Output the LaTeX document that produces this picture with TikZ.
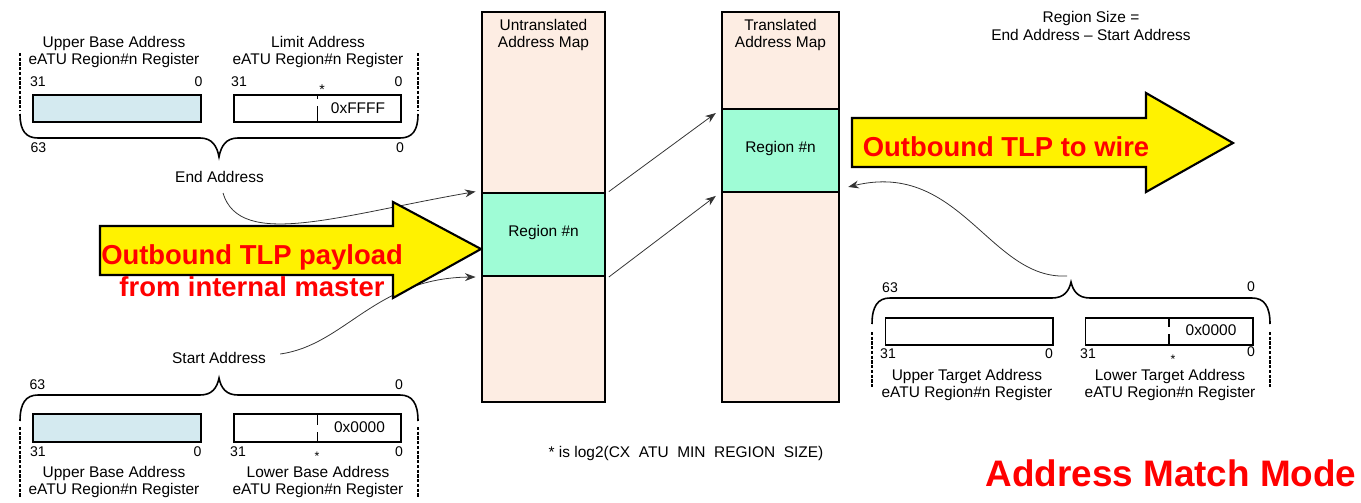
\documentclass[tikz,border=0pt]{standalone}
\usepackage{fontspec}
\setmainfont{Liberation Sans}
\usetikzlibrary{arrows.meta, positioning, calc}

\definecolor{mapbg}{HTML}{FDEDE3}
\definecolor{regbg}{HTML}{9FFCD6}
\definecolor{basebg}{HTML}{D4EAF0}

\begin{document}
\begin{tikzpicture}[
    x=0.02cm, y=-0.02cm,
    >=Stealth,
    lbl/.style={font=\fontsize{8.8}{10}\selectfont, inner sep=1pt, align=center},
    bitno/.style={font=\fontsize{8}{9}\selectfont, inner sep=0pt},
    regbox/.style={draw, line width=0.6pt, minimum height=0.54cm, inner sep=0pt},
    addrmap/.style={draw, line width=1.1pt, fill=mapbg, minimum height=7.81cm},
    band/.style={draw, line width=1.1pt, fill=regbg, minimum height=1.67cm},
    brace/.style={line width=0.9pt},
    dashside/.style={line width=1.1pt, dash pattern=on 1.8pt off 0.9pt},
    ptr/.style={-{Stealth[length=6pt,width=4.5pt]}, line width=0.45pt, black!80},
    tlp/.style={draw, line width=1.2pt, fill=yellow},
    bigred/.style={text=red, font=\bfseries\fontsize{15.6}{18}\selectfont, inner sep=0pt, align=center},
]
\useasboundingbox (0,0) rectangle (1361,503);
% === Address maps ===
\node[addrmap, minimum width=2.47cm] (umap) at (543.5,206.8) {};
\node[band, minimum width=2.47cm] (ureg) at (543.5,234.3) {};
\node[lbl] (utitle) at (543.5,35) {Untranslated\\Address Map};
\node[lbl] (utext) at (543.5,233) {Region \#n};
\node[addrmap, minimum width=2.35cm] (tmap) at (780.5,206.8) {};
\node[band, minimum width=2.35cm, minimum height=1.66cm] (treg) at (780.5,150.5) {};
\node[lbl] (ttitle) at (780.5,35) {Translated\\Address Map};
\node[lbl] (ttext) at (780.5,149) {Region \#n};
\draw[ptr] ([xshift=1.5pt]ureg.north east) -- ($(treg.north west)+(-5,5)$);
\draw[ptr] ([xshift=1.5pt]ureg.south east) -- ($(treg.south west)+(-5,3)$);
% === End address (upper registers) ===
\node[lbl] (ubhead) at (114,52) {Upper Base Address\\eATU Region\#n Register};
\node[lbl] (limhead) at (318,52) {Limit Address\\eATU Region\#n Register};
\node[regbox, fill=basebg, minimum width=3.36cm] (ubase) at (117,108.5) {};
\node[regbox, minimum width=3.34cm] (lim) at (317.5,108.5) {};
\draw[line width=0.6pt] (lim.north) -- ++(0,5) (lim.south) -- ++(0,-17);
\node[lbl] (limval) at (358,108) {0xFFFF};
\node[bitno] (ub31) at (38,82) {31};
\node[bitno] (ub0) at (198.5,82) {0};
\node[bitno] (lim31) at (239,82) {31};
\node[bitno] (lim0) at (398.5,82) {0};
\node[bitno] (limstar) at (322,90) {*};
\draw[dashside] (20,53) -- (20,110) (418,53) -- (418,110);
\draw[brace] (20,114) .. controls (20,131) and (26,138) .. (38,138) -- (200,138)
    .. controls (212,138) and (217,146) .. (219,157)
    .. controls (221,146) and (226,138) .. (238,138) -- (400,138)
    .. controls (412,138) and (418,131) .. (418,114);
\node[bitno] (end63) at (38.5,148) {63};
\node[bitno] (end0) at (400,148) {0};
\node[lbl] (ea) at (219.5,176.5) {End Address};
% === Start address (lower registers) ===
\node[lbl] (sa) at (219,357.5) {Start Address};
\node[bitno] (st63) at (37.5,385) {63};
\node[bitno] (st0) at (399,385) {0};
\draw[brace] (20,421) .. controls (20,403) and (26,395) .. (38,395) -- (200,395)
    .. controls (212,395) and (217,388) .. (219,378)
    .. controls (221,388) and (226,395) .. (238,395) -- (400,395)
    .. controls (412,395) and (418,403) .. (418,421);
\draw[dashside] (20,427) -- (20,498) (418,427) -- (418,498);
\node[regbox, fill=basebg, minimum width=3.36cm, minimum height=0.56cm] (ubase2) at (117,428) {};
\node[regbox, minimum width=3.34cm, minimum height=0.56cm] (lbase) at (317.5,428) {};
\draw[line width=0.6pt] (lbase.north) -- ++(0,12) (lbase.south) -- ++(0,-11);
\node[lbl] (lbval) at (359.5,427) {0x0000};
\node[bitno] (ub2_31) at (38,452) {31};
\node[bitno] (ub2_0) at (197.5,452) {0};
\node[bitno] (lb31) at (238,452) {31};
\node[bitno] (lb0) at (399,452) {0};
\node[bitno, font=\fontsize{7}{8}\selectfont] (lbstar) at (317,456) {*};
\node[lbl] (ub2head) at (114,482) {Upper Base Address\\eATU Region\#n Register};
\node[lbl] (lbhead) at (318,482) {Lower Base Address\\eATU Region\#n Register};
% === Target registers ===
\node[bitno] (tg63) at (890,288) {63};
\node[bitno] (tg0) at (1251,287) {0};
\coordinate (tgtip) at (1067,276);
\draw[brace] (872,324) .. controls (872,306) and (878,298) .. (890,298) -- (1052,298)
    .. controls (1064,298) and (1069,291) .. (1071,282)
    .. controls (1073,291) and (1078,298) .. (1090,298) -- (1252,298)
    .. controls (1264,298) and (1270,306) .. (1270,324);
\draw[dashside] (872,332) -- (872,387) (1270,332) -- (1270,387);
\node[regbox, minimum width=3.36cm] (utgt) at (969,331.5) {};
\node[regbox, minimum width=3.36cm] (ltgt) at (1169,331.5) {};
\draw[line width=0.6pt] (ltgt.north) -- ++(0,10) (ltgt.south) -- ++(0,-12);
\node[lbl] (ltval) at (1211,330) {0x0000};
\node[bitno] (ut31) at (888,354) {31};
\node[bitno] (ut0) at (1049,354) {0};
\node[bitno] (lt31) at (1088,354) {31};
\node[bitno] (lt0) at (1251,352) {0};
\node[bitno, font=\fontsize{7}{8}\selectfont] (ltstar) at (1173,359) {*};
\node[lbl] (uthead) at (967,385) {Upper Target Address\\eATU Region\#n Register};
\node[lbl] (lthead) at (1170,385) {Lower Target Address\\eATU Region\#n Register};
% === Curved pointers ===
\draw[ptr] ([xshift=2pt,yshift=-5pt]ea.south) .. controls (240,250) and (340,215) .. ([xshift=-3pt]ureg.north west);
\draw[ptr] ([xshift=7pt,yshift=2pt]sa.east) .. controls (345,345) and (375,278) .. ([xshift=-3pt]ureg.south west);
\draw[ptr] (tgtip) .. controls (990,280) and (960,160) .. ($(treg.south east)+(8,-6)$);
% === Yellow TLP arrows ===
\draw[tlp] (100,226) -- (393,226) -- (393,202) -- (481,249) -- (393,298) -- (393,275) -- (100,275) -- cycle;
\node[bigred] (intxt) at (252,271) {Outbound TLP payload\\from internal master};
\draw[tlp] (852,118) -- (1146,118) -- (1146,93) -- (1233,143) -- (1146,192) -- (1146,167) -- (852,167) -- cycle;
\node[bigred] (outtxt) at (1006,147) {Outbound TLP to wire};
% === Notes ===
\node[lbl] (sizenote) at (1091,26) {Region Size =\\End Address – Start Address};
\node[lbl] (starnote) at (686,453) {* is log2(CX\ \ ATU\ \ MIN\ \ REGION\ \ SIZE)};
\node[text=red, font=\bfseries\fontsize{21}{24}\selectfont, inner sep=0pt] (mode) at (1171,473) {Address Match Mode};
\end{tikzpicture}
\end{document}
